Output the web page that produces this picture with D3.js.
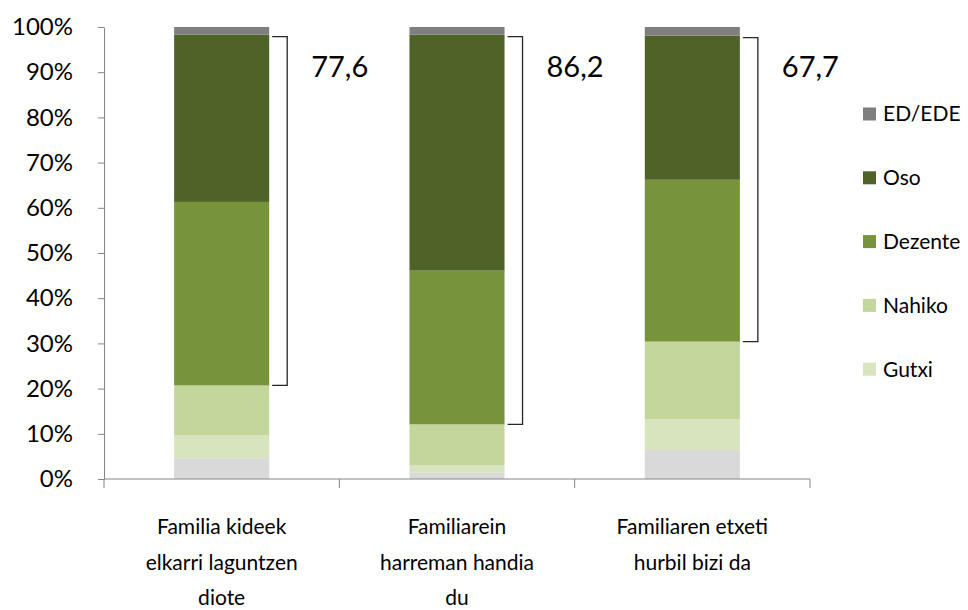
<!DOCTYPE html>
<html lang="eu">
<meta charset="utf-8">
<head>
    <script src="https://d3js.org/d3.v7.min.js"></script>
    <style>
        body { margin: 0; background: #fff; }
        text { font-family: Lato, "Open Sans", sans-serif; fill: #000; }
    </style>
</head>
<body>
<script>
    // categories (x axis), one label line per entry
    var categories = [
        ["Familia kideek", "elkarri laguntzen", "diote"],
        ["Familiarein", "harreman handia", "du"],
        ["Familiaren etxeti", "hurbil bizi da"]
    ];
    // series, bottom to top
    var seriesNames = ["Batere ez", "Gutxi", "Nahiko", "Dezente", "Oso", "ED/EDE"];
    var bateraEz = [4.6, 1.4, 6.4];
    var gutxi    = [5.0, 1.7, 6.8];
    var nahiko   = [11.1, 9.0, 17.2];
    var dezente  = [40.6, 34.0, 35.8];
    var oso      = [37.0, 52.2, 31.9];
    var edEde    = [1.7, 1.7, 1.9];
    var totals   = [77.6, 86.2, 67.7];   // Dezente + Oso
    var colors   = ["#d9d9d9", "#d7e4bd", "#c3d69b", "#77933c", "#4f6228", "#7f7f7f"];
    var legendNames = ["ED/EDE", "Oso", "Dezente", "Nahiko", "Gutxi"];
    var yTicks = [0, 10, 20, 30, 40, 50, 60, 70, 80, 90, 100];

    var width = 968, height = 610;
    var svg = d3.select("body").append("svg")
        .attr("width", width)
        .attr("height", height);

    var table = categories.map(function(c, i) {
        return {
            key: i,
            "Batere ez": bateraEz[i], "Gutxi": gutxi[i], "Nahiko": nahiko[i],
            "Dezente": dezente[i], "Oso": oso[i], "ED/EDE": edEde[i]
        };
    });
    var stacked = d3.stack().keys(seriesNames)(table);

    var x = d3.scaleBand()
        .domain(d3.range(categories.length))
        .range([104, 810])
        .padding(0);
    var y = d3.scaleLinear()
        .domain([0, 100])
        .range([479, 27]);
    var color = d3.scaleOrdinal().domain(seriesNames).range(colors);

    var barW = x.bandwidth() * 0.404;
    var barX = function(i) { return x(i) + (x.bandwidth() - barW) / 2; };

    // bars
    svg.append("g").selectAll("g")
        .data(stacked)
        .enter().append("g")
        .attr("fill", function(d) { return color(d.key); })
        .selectAll("rect")
        .data(function(d) { return d; })
        .enter().append("rect")
        .attr("x", function(d, i) { return barX(i); })
        .attr("y", function(d) { return y(d[1]); })
        .attr("width", barW)
        .attr("height", function(d) { return y(d[0]) - y(d[1]); });

    // y axis
    var yAxis = svg.append("g")
        .attr("transform", "translate(104,0)")
        .call(d3.axisLeft(y)
            .tickValues(yTicks)
            .tickFormat(function(d) { return d + "%"; })
            .tickSize(6)
            .tickSizeOuter(0)
            .tickPadding(25));
    yAxis.select(".domain").attr("stroke", "#868686");
    yAxis.selectAll(".tick line").attr("stroke", "#868686");
    yAxis.selectAll(".tick text")
        .style("font-size", "24px")
        .attr("fill", "#000");

    // x axis
    var xAxis = svg.append("g").attr("transform", "translate(0,479)");
    xAxis.append("line")
        .attr("x1", x.range()[0]).attr("x2", x.range()[1])
        .attr("stroke", "#868686");
    xAxis.selectAll(".xt")
        .data(d3.range(categories.length + 1))
        .enter().append("line")
        .attr("class", "xt")
        .attr("x1", function(d) { return x.range()[0] + d * x.step(); })
        .attr("x2", function(d) { return x.range()[0] + d * x.step(); })
        .attr("y1", 0).attr("y2", 9)
        .attr("stroke", "#868686");
    var xl = xAxis.selectAll(".xl")
        .data(categories)
        .enter().append("text")
        .attr("class", "xl")
        .attr("text-anchor", "middle")
        .style("font-size", "21px")
        .attr("transform", function(d, i) {
            return "translate(" + (x(i) + x.bandwidth() / 2) + ",55)";
        });
    xl.selectAll("tspan")
        .data(function(d) { return d; })
        .enter().append("tspan")
        .attr("x", 0)
        .attr("y", function(d, j) { return j * 35.5; })
        .text(function(d) { return d; });

    // brackets over Dezente + Oso
    var dezIdx = seriesNames.indexOf("Dezente");
    var osoIdx = seriesNames.indexOf("Oso");
    var br = svg.append("g").selectAll("g")
        .data(totals)
        .enter().append("g");
    br.append("path")
        .attr("fill", "none")
        .attr("stroke", "#262626")
        .attr("stroke-width", 1.3)
        .attr("d", function(d, i) {
            var x0 = barX(i) + barW + 3;
            var x1 = x0 + 15;
            var yt = y(stacked[osoIdx][i][1]) + 2;
            var yb = y(stacked[dezIdx][i][0]);
            return "M" + x0 + "," + yt + "H" + x1 + "V" + yb + "H" + x0;
        });
    br.append("text")
        .attr("x", function(d, i) { return barX(i) + barW + 42; })
        .attr("y", y(100) + 50)
        .style("font-size", "29px")
        .text(function(d) { return d.toFixed(1).replace(".", ","); });

    // legend
    var lg = svg.append("g").selectAll("g")
        .data(legendNames)
        .enter().append("g")
        .attr("transform", function(d, i) {
            return "translate(863," + (114 + i * 63.8) + ")";
        });
    lg.append("rect")
        .attr("x", 0).attr("y", -6.5)
        .attr("width", 13).attr("height", 13)
        .attr("fill", function(d) { return color(d); });
    lg.append("text")
        .attr("x", 20)
        .attr("dy", "0.35em")
        .style("font-size", "21px")
        .text(function(d) { return d; });
</script>
</body>
</html>
